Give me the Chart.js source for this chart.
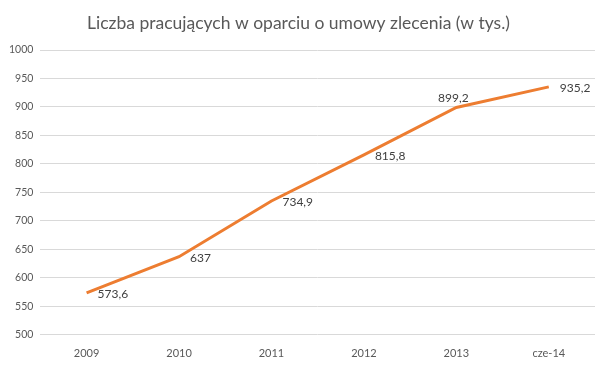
<!DOCTYPE html>
<html>
<head>
<meta charset="utf-8">
<script src="https://cdn.jsdelivr.net/npm/chart.js@4.4.1/dist/chart.umd.min.js"></script>
<style>
  html, body { margin: 0; padding: 0; background: #fff; }
  #wrap { width: 610px; height: 366px; }
</style>
</head>
<body>
<div id="wrap"><canvas id="wykres"></canvas></div>
<script>
// dane z wykresu
const lata = ['2009', '2010', '2011', '2012', '2013', 'cze-14']
const wartosci = [573.6, 637, 734.9, 815.8, 899.2, 935.2]
const etykiety = ['573,6', '637', '734,9', '815,8', '899,2', '935,2']
// gdzie stoi etykieta: 'right' albo 'above'
const pozycjeEtykiet = ['right', 'right', 'right', 'right', 'above', 'right']

const kolorSzary = '#595959'
const czcionka = 'Lato, "Open Sans", sans-serif'

// plugin do rysowania etykiet danych
const etykietyPlugin = {
    id: 'etykiety',
    afterDatasetsDraw(chart) {
        const ctx = chart.ctx
        const meta = chart.getDatasetMeta(0)
        ctx.save()
        ctx.font = '12px ' + czcionka
        ctx.fillStyle = '#404040'
        meta.data.forEach((pt, i) => {
            if (pozycjeEtykiet[i] == 'above') {
                ctx.textAlign = 'center'
                ctx.textBaseline = 'bottom'
                ctx.fillText(etykiety[i], pt.x - 3, pt.y - 3)
            } else {
                ctx.textAlign = 'left'
                ctx.textBaseline = 'middle'
                ctx.fillText(etykiety[i], pt.x + 11, pt.y + 1)
            }
        })
        ctx.restore()
    }
}

const ctx = document.getElementById('wykres')
new Chart(ctx, {
    type: 'line',
    data: {
        labels: lata,
        datasets: [{
            data: wartosci,
            borderColor: '#ED7D31',
            borderWidth: 3,
            pointRadius: 0,
            tension: 0,
            fill: false
        }]
    },
    options: {
        responsive: true,
        maintainAspectRatio: false,
        animation: false,
        layout: { padding: { left: 2, right: 15, top: 8, bottom: 2 } },
        plugins: {
            legend: { display: false },
            tooltip: { enabled: false },
            title: {
                display: true,
                text: 'Liczba pracujących w oparciu o umowy zlecenia (w tys.)',
                color: kolorSzary,
                font: { size: 17.5, family: czcionka, weight: 'normal' },
                padding: { top: 5, bottom: 16 }
            }
        },
        scales: {
            x: {
                offset: true,
                grid: { display: false },
                border: { display: false },
                ticks: { color: kolorSzary, font: { size: 11, family: czcionka }, padding: 4 }
            },
            y: {
                min: 500,
                max: 1000,
                ticks: {
                    stepSize: 50,
                    color: kolorSzary,
                    font: { size: 10.5, family: czcionka },
                    padding: 7,
                    callback: v => String(v)
                },
                grid: { color: '#D9D9D9', lineWidth: 1, drawTicks: false },
                border: { display: false }
            }
        }
    },
    plugins: [etykietyPlugin]
})
</script>
</body>
</html>
